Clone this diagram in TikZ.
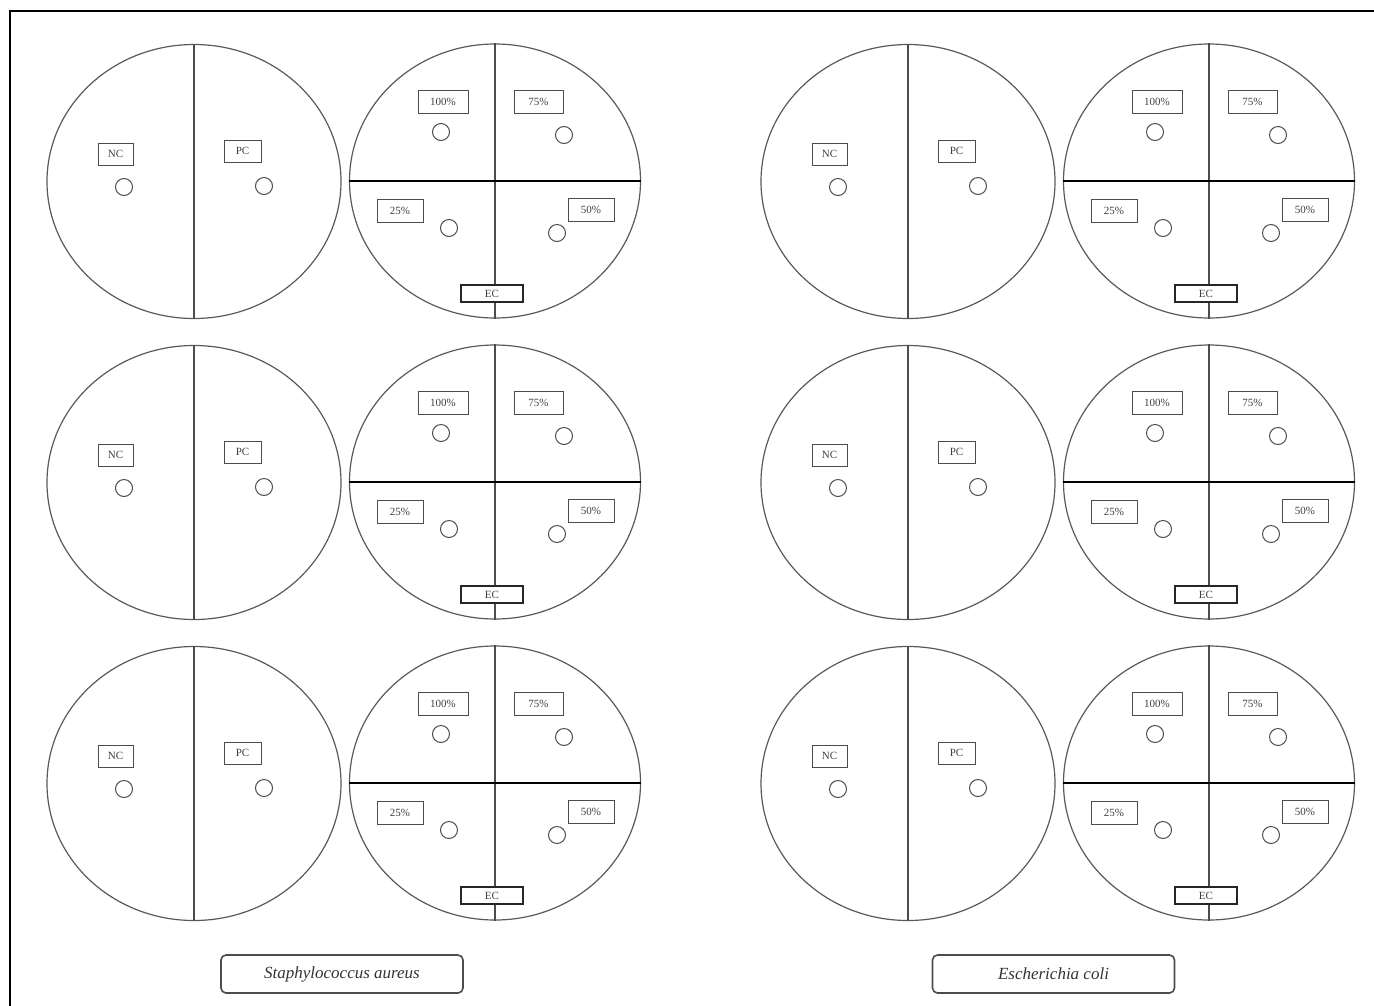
\documentclass[tikz,border=0pt]{standalone}
\usepackage{fontspec}
\setmainfont{Liberation Serif}
\usetikzlibrary{shapes.geometric}
\begin{document}
\begin{tikzpicture}[x=1pt,y=-1pt,
  plate/.style={draw=black!65, line width=1.2pt, ellipse, inner sep=0pt, minimum width=294pt, minimum height=274pt},
  divv/.style={draw=black!70, line width=1.8pt},
  divh/.style={draw=black, line width=1.8pt},
  well/.style={draw=black!70, line width=1pt, circle, inner sep=0pt, minimum size=17pt},
  lbl/.style={draw=black!70, line width=0.9pt, fill=white, inner sep=0pt, minimum height=22pt, font=\fontsize{11}{12}\selectfont, text=black!75},
  eclbl/.style={lbl, draw=black!85, line width=1.8pt, minimum width=62pt, minimum height=17pt},
  species/.style={draw=black!70, line width=1.6pt, rounded corners=5pt, minimum width=242pt, minimum height=38pt, inner sep=0pt, font=\fontsize{17}{18}\selectfont\itshape, text=black!80}
]
\useasboundingbox (0,0) rectangle (1374,1005);
% frame (cropped)
\coordinate (f1) at (10,1006);
\coordinate (f2) at (10,11);
\coordinate (f3) at (1375,11);
\draw[line width=1.8pt] (f1) -- (f2) -- (f3);

\foreach \g/\dx in {1/0,2/714}{
  \foreach \r/\dy in {1/0,2/301,3/602}{
    \begin{scope}[shift={(\dx,\dy)}]
      % two-section plate
      \node[plate] (lp\g\r) at (194,181.5) {};
      \draw[divv] (lp\g\r.north) -- (lp\g\r.south);
      \node[lbl, minimum width=35pt] (nc\g\r) at (115.5,154) {NC};
      \node[lbl, minimum width=37pt] (pc\g\r) at (242.5,151) {PC};
      \node[well] (wnc\g\r) at (124,187) {};
      \node[well] (wpc\g\r) at (264,186) {};
      % four-section plate
      \node[plate, minimum width=291pt] (qp\g\r) at (495,181) {};
      \draw[divv] (qp\g\r.north) -- (qp\g\r.south);
      \draw[divh] (qp\g\r.west) -- (qp\g\r.east);
      \node[lbl, minimum width=50pt, minimum height=23pt] (a\g\r) at (443,101.5) {100\%};
      \node[lbl, minimum width=49pt, minimum height=23pt] (b\g\r) at (538.5,101.5) {75\%};
      \node[lbl, minimum width=46pt, minimum height=23pt] (c\g\r) at (400,210.5) {25\%};
      \node[lbl, minimum width=46pt, minimum height=23pt] (d\g\r) at (591,209.5) {50\%};
      \node[well] (wa\g\r) at (441,132) {};
      \node[well] (wb\g\r) at (564,135) {};
      \node[well] (wc\g\r) at (449,228) {};
      \node[well] (wd\g\r) at (557,233) {};
      \node[eclbl] (ec\g\r) at (492,293.5) {EC};
    \end{scope}
  }
}
\node[species] (sa) at (342,974) {Staphylococcus aureus};
\node[species] (ecoli) at (1053.5,974) {Escherichia coli};
\end{tikzpicture}
\end{document}
